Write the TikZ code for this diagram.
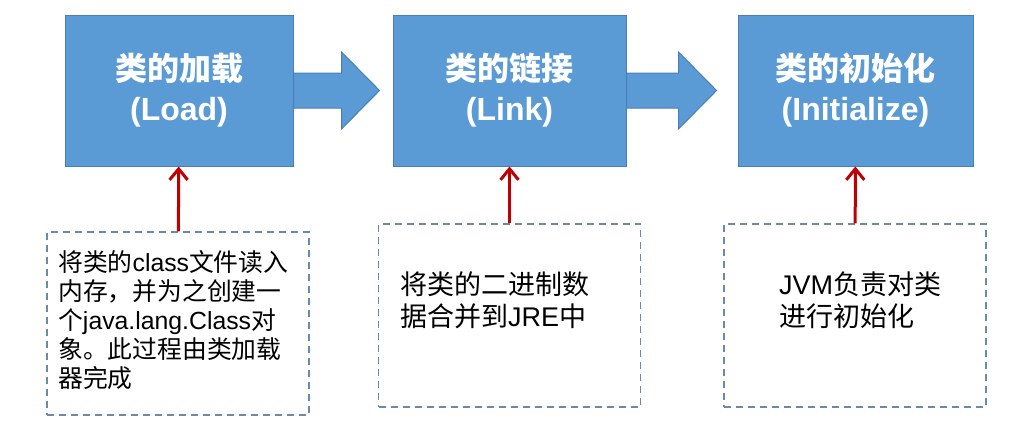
\documentclass[tikz,border=0pt]{standalone}
\usepackage{fontspec}
\setmainfont{Liberation Sans}
\newfontfamily\cjk{Noto Sans CJK SC}
\usetikzlibrary{arrows.meta, backgrounds}
\definecolor{stageblue}{HTML}{5B9BD5}
\definecolor{stageedge}{HTML}{4A7EBB}
\definecolor{noteedge}{HTML}{6C8AA8}
\definecolor{feedred}{HTML}{C00000}

\begin{document}
\begin{tikzpicture}[x=1pt, y=-1pt,
  stage/.style={draw=stageedge, fill=stageblue, line width=1pt,
                minimum height=151pt, align=center, text=white,
                font=\fontsize{32}{40}\selectfont\bfseries},
  note/.style={draw=noteedge, dash pattern=on 7pt off 5pt, line width=1.5pt,
               minimum width=262pt, minimum height=183pt},
  notetext/.style={anchor=north west, inner sep=0pt, align=left},
  flow/.style={draw=stageedge, fill=stageblue, line width=1pt},
  feed/.style={-{Straight Barb[length=11pt, width=18pt]}, draw=feedred, line width=3pt}
]
  \useasboundingbox (0,0) rectangle (1031,429);

  % the three stages
  \node[stage, minimum width=228pt] (load) at (179, 90.5)
    {{\cjk 类的加载}\\(Load)};
  \node[stage, minimum width=233pt] (link) at (509.5, 90.5)
    {{\cjk 类的链接}\\(Link)};
  \node[stage, minimum width=235pt] (init) at (855.5, 90.5)
    {{\cjk 类的初始化}\\(Initialize)};

  % block arrows between the stages
  \begin{scope}[on background layer]
    \draw[flow] (load.east) ++(0,-17.5) -- ++(48,0) -- ++(0,-21)
      -- ++(38,38.5) -- ++(-38,38.5) -- ++(0,-21) -- ++(-48,0) -- cycle;
    \draw[flow] (link.east) ++(0,-17.5) -- ++(52,0) -- ++(0,-21)
      -- ++(38,38.5) -- ++(-38,38.5) -- ++(0,-21) -- ++(-52,0) -- cycle;
  \end{scope}

  % notes below
  \node[note] (loadnote) at (178, 323.5) {};
  \node[note] (linknote) at (509.5, 315.5) {};
  \node[note] (initnote) at (855, 315.5) {};

  \node[notetext, font=\fontsize{24.8}{29}\selectfont] (loadtext) at (58, 250)
    {{\cjk 将类的}class{\cjk 文件读入}\\
     {\cjk 内存，并为之创建一}\\
     {\cjk 个}java.lang.Class{\cjk 对}\\
     {\cjk 象。此过程由类加载}\\
     {\cjk 器完成}};
  \node[notetext, font=\fontsize{27}{32}\selectfont] (linktext) at (400, 272)
    {{\cjk 将类的二进制数}\\
     {\cjk 据合并到}JRE{\cjk 中}};
  \node[notetext, font=\fontsize{27}{32}\selectfont] (inittext) at (779, 272)
    {JVM{\cjk 负责对类}\\
     {\cjk 进行初始化}};

  \draw[feed] (loadnote) -- (load);
  \draw[feed] (linknote) -- (link);
  \draw[feed] (initnote) -- (init);
\end{tikzpicture}
\end{document}
